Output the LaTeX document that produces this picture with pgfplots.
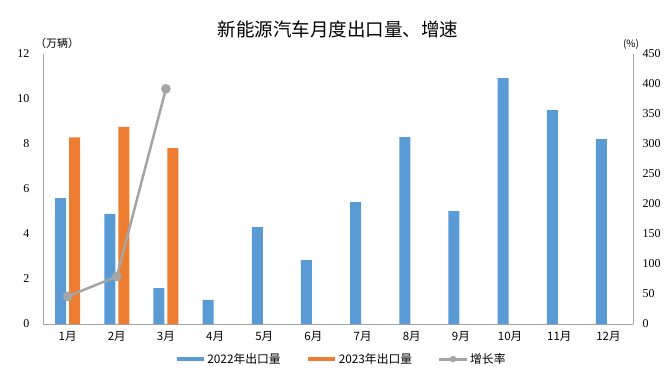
\documentclass[border=0pt]{standalone}
\usepackage{fontspec}
\setmainfont{Liberation Serif}
\newfontfamily\cjk{Noto Sans CJK SC}
\usepackage{pgfplots}
\pgfplotsset{compat=1.18}
\definecolor{barblue}{HTML}{5B9BD5}
\definecolor{barorange}{HTML}{ED7D31}
\definecolor{linegray}{HTML}{A5A5A5}
\definecolor{axgray}{HTML}{A6A6A6}
\pgfplotstableread{
x y
0 5.60
1 4.89
2 1.60
3 1.07
4 4.31
5 2.84
6 5.42
7 8.31
8 5.02
9 10.93
10 9.51
11 8.22
}\tabA
\pgfplotstableread{
x y
0 8.30
1 8.76
2 7.82
}\tabB
\pgfplotstableread{
x y
0 46
1 79
2 392
}\tabC
\begin{document}
\begin{tikzpicture}
\path[use as bounding box] (0pt,0pt) rectangle (668pt,370pt);
\node[font=\cjk\fontsize{18.5}{20}\selectfont] at (338pt,341pt) {新能源汽车月度出口量、增速};
\node[font=\cjk\fontsize{11}{12}\selectfont] at (57pt,327pt) {（万辆）};
\node[font=\cjk\fontsize{10}{12}\selectfont] at (631pt,326pt) {(\%)};
\begin{axis}[
  at={(43pt,46pt)}, anchor=south west, scale only axis,
  width=590pt, height=270pt,
  xmin=-0.5, xmax=11.5, ymin=0, ymax=12,
  xtick={0,...,11},
  xticklabels={1月,2月,3月,4月,5月,6月,7月,8月,9月,10月,11月,12月},
  ytick={0,2,...,12},
  axis x line*=bottom, axis y line*=left,
  axis line style={-, draw=axgray, line width=0.8pt},
  major tick length=0pt, tick style={draw=none},
  xticklabel style={font=\cjk\fontsize{11.5}{12}\selectfont, yshift=-4pt},
  yticklabel style={font=\fontsize{12}{12}\selectfont, xshift=-10pt},
  /pgf/number format/assume math mode=true,
  clip=false,
]
\addplot[ybar, bar width=11pt, bar shift=-7pt, fill=barblue, draw=none] table[x=x,y=y] {\tabA};
\addplot[ybar, bar width=11pt, bar shift=7pt, fill=barorange, draw=none] table[x=x,y=y] {\tabB};
\end{axis}
\begin{axis}[
  at={(43pt,46pt)}, anchor=south west, scale only axis,
  width=590pt, height=270pt,
  xmin=-0.5, xmax=11.5, ymin=0, ymax=450,
  ytick={0,50,...,450},
  axis x line=none, axis y line*=right,
  axis line style={-, draw=axgray, line width=0.8pt},
  major tick length=0pt, tick style={draw=none},
  yticklabel style={font=\fontsize{12}{12}\selectfont, xshift=6pt},
  /pgf/number format/assume math mode=true,
  clip=false,
  legend style={at={(0.505,-0.13)}, anchor=center, draw=none, fill=none,
    font=\cjk\fontsize{11.8}{12}\selectfont, legend columns=3,
    inner sep=0pt, nodes={inner sep=1.5pt},
    /tikz/every even column/.append style={column sep=24pt}},
]
\addlegendimage{legend image code/.code={\draw[line width=4pt, barblue] (0pt,0pt) -- (27pt,0pt);}}
\addlegendentry{2022年出口量}
\addlegendimage{legend image code/.code={\draw[line width=4pt, barorange] (0pt,0pt) -- (27pt,0pt);}}
\addlegendentry{2023年出口量}
\addlegendimage{legend image code/.code={\draw[line width=3pt, linegray] (0pt,0pt) -- (28pt,0pt); \fill[linegray] (14pt,0pt) circle (3pt);}}
\addlegendentry{增长率}
\addplot[linegray, line width=2.5pt, mark=*, mark size=3.5pt, mark options={fill=linegray, draw=linegray}] table[x=x,y=y] {\tabC};
\end{axis}
\end{tikzpicture}
\end{document}
